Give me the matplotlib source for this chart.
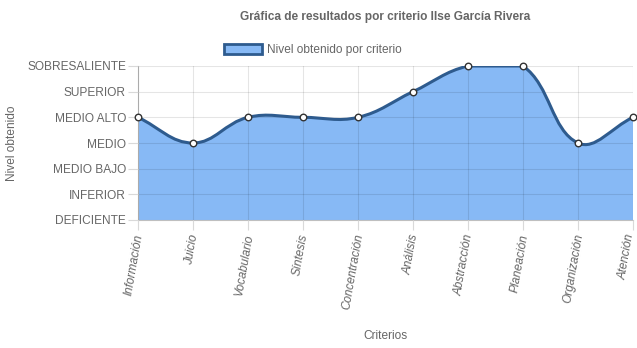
import numpy as np
import matplotlib.pyplot as plt
from matplotlib.path import Path
from matplotlib.patches import PathPatch, Patch

plt.rcParams['font.family'] = ['Liberation Sans', 'DejaVu Sans']

criterios = ['Información', 'Juicio', 'Vocabulario', 'Síntesis', 'Concentración',
             'Análisis', 'Abstracción', 'Planeación', 'Organización', 'Atención']
niveles = ['DEFICIENTE', 'INFERIOR', 'MEDIO BAJO', 'MEDIO', 'MEDIO ALTO',
           'SUPERIOR', 'SOBRESALIENTE']
valores = [4, 3, 4, 4, 4, 5, 6, 6, 3, 4]

FILL = '#87b9f5'
LINE = '#2e5b8e'
GREY = '#666666'

fig = plt.figure(figsize=(6.37, 3.48), dpi=100)
ax = fig.add_axes([138 / 637, 1 - 220 / 348, 495 / 637, 154 / 348])
ax.set_xlim(0, len(criterios) - 1)
ax.set_ylim(0, len(niveles) - 1)

# chart.js style bezier (tension 0.4), computed in pixel space, capped to the chart area
x = np.arange(len(valores), dtype=float)
y = np.array(valores, dtype=float)
sx = 495 / (len(criterios) - 1)
sy = 154 / (len(niveles) - 1)
px, py = x * sx, y * sy
t = 0.4
prev_cp, next_cp = [], []
for i in range(len(x)):
    a = max(i - 1, 0)
    b = min(i + 1, len(x) - 1)
    d01 = np.hypot(px[i] - px[a], py[i] - py[a])
    d12 = np.hypot(px[b] - px[i], py[b] - py[i])
    tot = d01 + d12
    s01 = d01 / tot if tot else 0
    s12 = d12 / tot if tot else 0
    dx, dy = px[b] - px[a], py[b] - py[a]
    pcx, pcy = px[i] - t * s01 * dx, py[i] - t * s01 * dy
    ncx, ncy = px[i] + t * s12 * dx, py[i] + t * s12 * dy
    cap = lambda cx, cy: (np.clip(cx / sx, 0, x[-1]), np.clip(cy / sy, 0, len(niveles) - 1))
    prev_cp.append(cap(pcx, pcy))
    next_cp.append(cap(ncx, ncy))

verts = [(x[0], y[0])]
codes = [Path.MOVETO]
for i in range(len(x) - 1):
    verts += [next_cp[i], prev_cp[i + 1], (x[i + 1], y[i + 1])]
    codes += [Path.CURVE4] * 3
line_path = Path(verts, codes)
fill_path = Path(verts + [(x[-1], 0), (x[0], 0), (x[0], y[0])],
                 codes + [Path.LINETO, Path.LINETO, Path.CLOSEPOLY])

ax.add_patch(PathPatch(fill_path, facecolor=FILL, edgecolor='none', zorder=1))
ax.add_patch(PathPatch(line_path, facecolor='none', edgecolor=LINE, lw=2.2, zorder=3))
ax.scatter(x, y, s=22, facecolor='white', edgecolor='#333333', lw=1, zorder=4, clip_on=False)

# x labels drawn as annotations so the last one can be nudged inside the canvas
ax.set_xticks(x)
ax.set_xticklabels([])
for xi, lab in zip(x, criterios):
    dx = -3 if xi == x[-1] else 0
    ax.annotate(lab, (xi, 0), xytext=(dx, -10), textcoords='offset points',
                rotation=80, ha='right', va='center_baseline', rotation_mode='anchor',
                fontstyle='italic', color=GREY, fontsize=8.6, annotation_clip=False)
ax.set_yticks(range(len(niveles)))
ax.set_yticklabels(niveles, color=GREY, fontsize=8.6)
ax.tick_params(axis='both', length=7.2, width=0.8, color='#d9d9d9', pad=1.5)
ax.grid(True, color='black', alpha=0.1, lw=0.8, zorder=2)
ax.set_axisbelow(False)
for s in ['top', 'right']:
    ax.spines[s].set_visible(False)
ax.spines['left'].set_color('#bfbfbf')
ax.spines['bottom'].set_color('#bfbfbf')
ax.spines['left'].set_linewidth(0.8)
ax.spines['bottom'].set_linewidth(0.8)

fig.text(385 / 637, 1 - 17 / 348, 'Gráfica de resultados por criterio Ilse García Rivera',
         ha='center', va='center', fontsize=8.6, fontweight='bold', color=GREY)
fig.text(12 / 637, 1 - 143 / 348, 'Nivel obtenido', rotation=90, ha='center', va='center',
         fontsize=8.6, color=GREY)
fig.text(385 / 637, 1 - 336 / 348, 'Criterios', ha='center', va='center',
         fontsize=8.6, color=GREY)

handle = Patch(facecolor=FILL, edgecolor=LINE, lw=2)
fig.legend([handle], ['Nivel obtenido por criterio'], loc='center',
           bbox_to_anchor=(313 / 637, 1 - 50 / 348), frameon=False, fontsize=8.6,
           labelcolor=GREY, handlelength=3.2, handleheight=1.0, handletextpad=0.4)

fig.savefig('out.png', dpi=100)
